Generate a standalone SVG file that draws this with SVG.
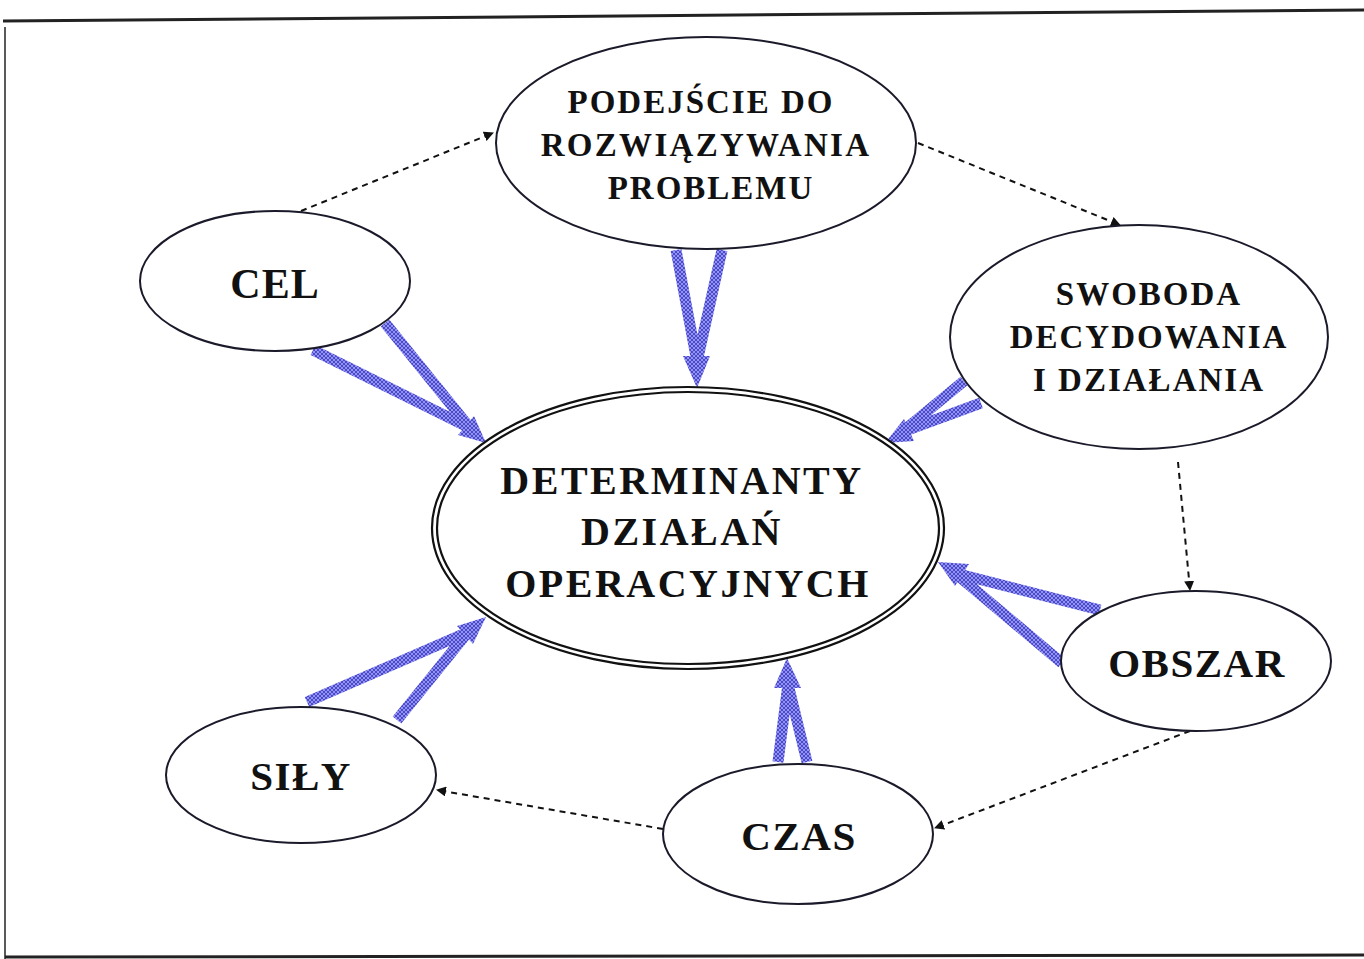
<svg xmlns="http://www.w3.org/2000/svg" width="1364" height="959" viewBox="0 0 1364 959">
<style>
.node{fill:#fff;stroke:#1a1a2a;stroke-width:2}
.t{font-family:"Liberation Serif","Times New Roman",serif;font-weight:bold;fill:#111;text-anchor:middle}
.dash{fill:none;stroke:#111;stroke-width:2;stroke-dasharray:6 5}
.bs{fill:none;stroke:url(#hatch);stroke-width:11}
.bh{fill:url(#hatch)}
</style>
<defs>
<pattern id="hatch" width="4" height="4" patternUnits="userSpaceOnUse">
<rect width="4" height="4" fill="#9494ee"/>
<path d="M0 0L4 4M4 0L0 4" stroke="#4a4ad0" stroke-width="1"/>
</pattern>
<marker id="ah" viewBox="0 0 10 10" refX="9" refY="5" markerWidth="5" markerHeight="5" orient="auto" markerUnits="strokeWidth">
<path d="M0 0L10 5L0 10z" fill="#111"/>
</marker>
</defs>
<rect width="1364" height="959" fill="#fff"/>
<g id="frame" fill="none" stroke="#222">
<path d="M3 21L1364 10" stroke-width="3"/>
<path d="M5 27L5 959" stroke-width="1.5"/>
<path d="M5 957L1364 955" stroke-width="3"/>
</g>
<g id="connectors">
<path class="dash" d="M301 211L493 133" marker-end="url(#ah)"/>
<path class="dash" d="M918 143L1120 225" marker-end="url(#ah)"/>
<path class="dash" d="M1178 462L1190 590" marker-end="url(#ah)"/>
<path class="dash" d="M1190 731L935 828" marker-end="url(#ah)"/>
<path class="dash" d="M663 829L437 790" marker-end="url(#ah)"/>
<g id="a1"><path class="bs" d="M676 250L697 362M722 250L697 362"/><path class="bh" d="M683 356L710 356L697 388z"/></g>
<g id="a2"><path class="bs" d="M385 323L470 428M313 350L470 428"/><path class="bh" d="M474 416L458 435L486 443z"/></g>
<g id="a3"><path class="bs" d="M964 381L902 432M981 403L902 432"/><path class="bh" d="M904 419L914 441L885 443z"/></g>
<g id="a4"><path class="bs" d="M1100 610L955 573M1062 663L955 573"/><path class="bh" d="M969 564L955 586L938 562z"/></g>
<g id="a5"><path class="bs" d="M307 702L468 632M397 720L468 632"/><path class="bh" d="M457 626L473 644L486 617z"/></g>
<g id="a6"><path class="bs" d="M778 762L788 684M807 762L788 684"/><path class="bh" d="M774 688L801 688L787 658z"/></g>
</g>
<g id="n-center">
<ellipse cx="688" cy="528" rx="256" ry="141" fill="#fff" stroke="#111" stroke-width="2.2"/>
<ellipse cx="688" cy="528" rx="251" ry="136" fill="none" stroke="#111" stroke-width="2.2"/>
<text class="t" font-size="40" letter-spacing="2.5" x="682" y="494">DETERMINANTY</text>
<text class="t" font-size="40" letter-spacing="2.5" x="682" y="545">DZIAŁAŃ</text>
<text class="t" font-size="40" letter-spacing="2.5" x="688" y="597">OPERACYJNYCH</text>
</g>
<g id="n-podejscie">
<ellipse class="node" cx="706" cy="143" rx="210" ry="106"/>
<text class="t" font-size="33" letter-spacing="2" x="701" y="113">PODEJŚCIE DO</text>
<text class="t" font-size="33" letter-spacing="2.3" x="706" y="156">ROZWIĄZYWANIA</text>
<text class="t" font-size="33" letter-spacing="2" x="711" y="199">PROBLEMU</text>
</g>
<g id="n-cel">
<ellipse class="node" cx="275" cy="281" rx="135" ry="70"/>
<text class="t" font-size="42" letter-spacing="1" x="275" y="298">CEL</text>
</g>
<g id="n-swoboda">
<ellipse class="node" cx="1139" cy="337" rx="189" ry="112"/>
<text class="t" font-size="33" letter-spacing="2" x="1149" y="305">SWOBODA</text>
<text class="t" font-size="33" letter-spacing="2" x="1149" y="348">DECYDOWANIA</text>
<text class="t" font-size="33" letter-spacing="2" x="1149" y="391">I DZIAŁANIA</text>
</g>
<g id="n-obszar">
<ellipse class="node" cx="1196" cy="661" rx="135" ry="70"/>
<text class="t" font-size="41" letter-spacing="1.5" x="1197" y="677">OBSZAR</text>
</g>
<g id="n-sily">
<ellipse class="node" cx="301" cy="775" rx="135" ry="68"/>
<text class="t" font-size="41" letter-spacing="1.5" x="301" y="790">SIŁY</text>
</g>
<g id="n-czas">
<ellipse class="node" cx="798" cy="834" rx="135" ry="70"/>
<text class="t" font-size="41" letter-spacing="1.5" x="799" y="850">CZAS</text>
</g>
</svg>
